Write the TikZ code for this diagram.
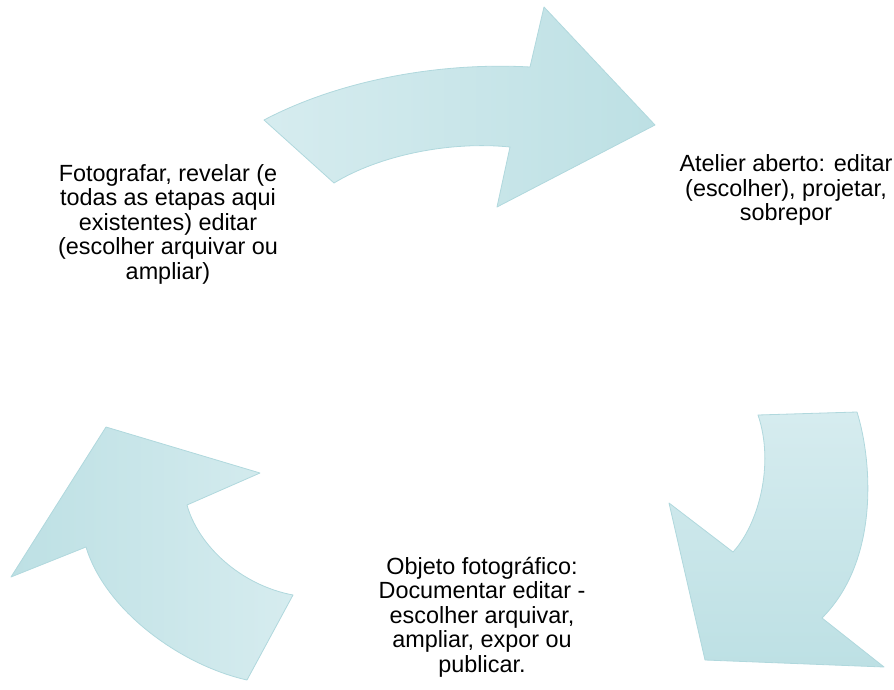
\documentclass[tikz,border=0pt]{standalone}
\usepackage{fontspec}
\setmainfont{Liberation Sans}
\usepackage{xcolor}
\usepackage{tikz}
\definecolor{cyclelight}{RGB}{214,236,239}
\definecolor{cycledark}{RGB}{189,224,228}
\definecolor{cycleline}{RGB}{176,216,221}

\begin{document}
\begin{tikzpicture}[x=1pt, y=-1pt,
  cyclearrow/.style={draw=cycleline, line width=0.8pt, line join=round},
  steptext/.style={align=center, font=\fontsize{23.4}{24.5}\selectfont, inner sep=0pt}]
  \useasboundingbox (0,0) rectangle (894,690);
  \path[cyclearrow, left color=cyclelight, right color=cycledark] (264,120) .. controls (340,80) and (440,62) .. (530,67) -- (544,7) -- (655,125) -- (497,207) -- (510,147) .. controls (450,141) and (380,155) .. (334,183) -- cycle;
  \path[cyclearrow, top color=cyclelight, bottom color=cycledark] (758,415) -- (857,412) .. controls (872,460) and (880,560) .. (822,618) -- (884,667) -- (705,660) -- (669,503) -- (733,552) .. controls (758,525) and (775,465) .. (758,415) -- cycle;
  \path[cyclearrow, left color=cycledark, right color=cyclelight] (293,595) -- (247,680) .. controls (180,665) and (105,610) .. (86,547) -- (11,577) -- (106,427) -- (260,473) -- (187,505) .. controls (198,545) and (240,585) .. (293,595) -- cycle;
  \node[steptext] (fotografar) at (168,224) {Fotografar, revelar (e\\todas as etapas aqui\\existentes) editar\\(escolher arquivar ou\\ampliar)};
  \node[steptext] (atelier) at (786,190) {Atelier aberto: editar\\(escolher), projetar,\\sobrepor};
  \node[steptext] (objeto) at (482,617) {Objeto fotográfico:\\Documentar editar -\\escolher arquivar,\\ampliar, expor ou\\publicar.};
\end{tikzpicture}
\end{document}
